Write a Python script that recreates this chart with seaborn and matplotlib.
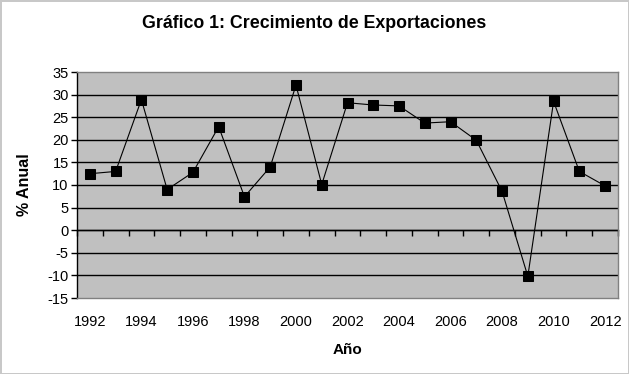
import matplotlib
matplotlib.use("Agg")
import matplotlib.pyplot as plt
import seaborn as sns
import numpy as np
import pandas as pd

years = list(range(1992, 2013))
growth = [12.5, 13.0, 28.9, 9.0, 12.8, 22.9, 7.4, 14.0, 32.1, 10.1, 28.2,
          27.7, 27.5, 23.7, 24.0, 19.9, 8.6, -10.2, 28.5, 13.0, 9.8]
tick_years = list(range(1992, 2013, 2))
y_ticks = list(range(-15, 36, 5))

title = "Gráfico 1: Crecimiento de Exportaciones"
xlabel = "Año"
ylabel = "% Anual"

sns.set_style("white")
plt.rcParams['font.family'] = ['Liberation Sans', 'DejaVu Sans']
plt.rcParams['axes.unicode_minus'] = False
for k in ["text.color", "axes.labelcolor", "xtick.color", "ytick.color",
          "xtick.labelcolor", "ytick.labelcolor"]:
    plt.rcParams[k] = "black"

df = pd.DataFrame({"Año": years, "Crecimiento": growth})

fig = plt.figure(figsize=(6.29, 3.74), dpi=100)
fig.patch.set_facecolor("white")
fig.patch.set_edgecolor("#c8c8c8")
fig.patch.set_linewidth(2)
ax = fig.add_axes([77/629, 1-298/374, (618-77)/629, (298-72)/374])
ax.set_facecolor("#c0c0c0")

ylo, yhi = -15, 35
ax.set_ylim(ylo, yhi)
ax.set_xlim(years[0]-0.5, years[-1]+0.5)

for v in y_ticks[1:-1]:
    ax.axhline(v, color="black", lw=1.0, zorder=1)

sns.lineplot(data=df, x="Año", y="Crecimiento", ax=ax, color="black", lw=0.8,
             marker="s", markersize=6.5, markeredgecolor="black",
             markerfacecolor="black", zorder=3)

ax.set_yticks(y_ticks)
ax.set_yticklabels([str(v) for v in y_ticks], fontsize=10.5)
ax.tick_params(axis="y", direction="out", length=4, width=1, color="black", pad=2, left=True)
ax.set_xticks(tick_years)
ax.set_xticklabels([str(v) for v in tick_years], fontsize=10.5)
ax.tick_params(axis="x", length=0, pad=12)

for s in ["top", "right", "bottom"]:
    ax.spines[s].set_color("#808080")
    ax.spines[s].set_linewidth(1)
ax.spines["left"].set_color("black")
ax.spines["left"].set_linewidth(1)

# category axis crossing at zero
sec = ax.secondary_xaxis((0 - ylo) / (yhi - ylo))
bounds = [y - 0.5 for y in years] + [years[-1] + 0.5]
sec.set_xticks(bounds)
sec.set_xticklabels([""] * len(bounds))
sec.tick_params(direction="out", length=4, width=1, color="black")
sec.spines["bottom"].set_color("black")
sec.spines["bottom"].set_linewidth(1)

ax.set_xlabel(xlabel, fontsize=11, fontweight="bold", labelpad=10)
ax.set_ylabel(ylabel, fontsize=11.5, fontweight="bold", labelpad=11)
fig.suptitle(title, fontsize=12.8, fontweight="bold", x=314/629, y=1-24/374, va="center")

fig.savefig("out.png", dpi=100)
